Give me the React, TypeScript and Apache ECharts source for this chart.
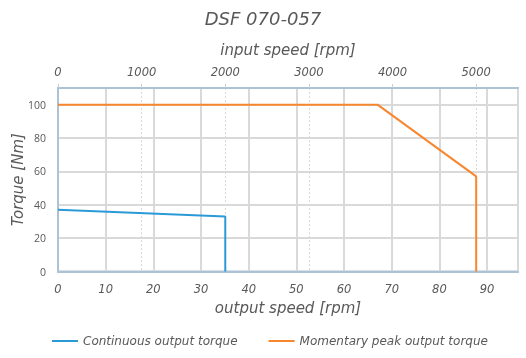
import React, { useEffect, useRef } from "react";
import * as echarts from "echarts";

const RATIO = 57;
const inputMax = 5500;
const inputTicks = [0, 1000, 2000, 3000, 4000, 5000];
const torqueTicks = [0, 20, 40, 60, 80, 100];

const continuousSpeed = [0, 2000 / RATIO, 2000 / RATIO];
const continuousTorque = [37, 33, 0];
const peakSpeed = [0, 3820 / RATIO, 5000 / RATIO, 5000 / RATIO];
const peakTorque = [100, 100, 57, 0];

const seriesNames = ["Continuous output torque", "Momentary peak output torque"];

const FONT = "'DejaVu Sans', sans-serif";
const NUMFONT = "'Open Sans', sans-serif";
const GRAY = "#595959";
const BORDER = "#adc2d5";
const GRID = "#d9d9d9";

export default function App() {
  const ref = useRef<HTMLDivElement>(null);
  useEffect(() => {
    if (!ref.current) return;
    const chart = echarts.init(ref.current, null, { renderer: "svg" });
    chart.setOption({
      animation: false,
      title: {
        text: "DSF 070-057",
        left: "center",
        top: 4,
        textStyle: { fontFamily: FONT, fontStyle: "italic", fontWeight: "normal", fontSize: 18, color: GRAY },
      },
      legend: {
        bottom: 6,
        left: 46,
        itemWidth: 26,
        itemHeight: 2,
        itemGap: 30,
        textStyle: { fontFamily: FONT, fontStyle: "italic", fontSize: 12, color: GRAY },
        data: seriesNames,
      },
      grid: {
        left: 58,
        right: 8,
        top: 88,
        bottom: 86.5,
        show: true,
        borderColor: BORDER,
        borderWidth: 2,
        containLabel: false,
        outerBoundsMode: "none",
      },
      xAxis: [
        {
          type: "value",
          position: "bottom",
          min: 0,
          max: inputMax / RATIO,
          interval: 10,
          name: "output speed [rpm]",
          nameLocation: "middle",
          nameGap: 29,
          nameTextStyle: { fontFamily: FONT, fontStyle: "italic", fontSize: 15, color: GRAY },
          axisLine: { show: true, lineStyle: { color: BORDER, width: 2 } },
          axisTick: { show: false },
          axisLabel: { showMaxLabel: false, margin: 11, fontFamily: FONT, fontStyle: "italic", fontSize: 11.5, color: GRAY },
          splitLine: { show: true, lineStyle: { color: GRID, width: 2, type: "solid" } },
        },
        {
          type: "value",
          position: "top",
          min: 0,
          max: inputMax,
          interval: 1000,
          name: "input speed [rpm]",
          nameLocation: "middle",
          nameGap: 31,
          nameTextStyle: { fontFamily: FONT, fontStyle: "italic", fontSize: 15, color: GRAY },
          axisLine: { show: true, lineStyle: { color: BORDER, width: 2 } },
          axisTick: { show: true, length: 4, lineStyle: { color: "#cccccc" } },
          axisLabel: {
            showMaxLabel: false,
            margin: 10,
            fontFamily: FONT,
            fontStyle: "italic",
            fontSize: 11.5,
            color: GRAY,
            formatter: (v: number) => (inputTicks.includes(v) ? String(v) : ""),
          },
          splitLine: { show: true, lineStyle: { color: "#d8d8d8", width: 1, type: [2, 2] } },
        },
      ],
      yAxis: {
        type: "value",
        min: 0,
        max: 110,
        interval: 20,
        name: "Torque [Nm]",
        nameLocation: "middle",
        nameGap: 33,
        nameMoveOverlap: false,
        nameTextStyle: { fontFamily: FONT, fontStyle: "italic", fontSize: 15, color: GRAY },
        axisLine: { show: true, lineStyle: { color: BORDER, width: 2 } },
        axisTick: { show: false },
        axisLabel: {
          showMaxLabel: false,
          margin: 12,
          fontFamily: NUMFONT,
          fontSize: 10.5,
          color: GRAY,
          formatter: (v: number) => (torqueTicks.includes(v) ? String(v) : ""),
        },
        splitLine: { show: true, lineStyle: { color: GRID, width: 2, type: "solid" } },
      },
      series: [
        {
          name: seriesNames[0],
          type: "line",
          xAxisIndex: 0,
          symbol: "none",
          color: "#2a9ad7",
          lineStyle: { width: 2, color: "#2a9ad7" },
          data: continuousSpeed.map((x, i) => [x, continuousTorque[i]]),
        },
        {
          name: seriesNames[1],
          type: "line",
          xAxisIndex: 0,
          symbol: "none",
          color: "#f7862e",
          lineStyle: { width: 2, color: "#f7862e" },
          data: peakSpeed.map((x, i) => [x, peakTorque[i]]),
        },
      ],
    });
    return () => chart.dispose();
  }, []);
  return <div ref={ref} style={{ position: "fixed", left: 0, top: 0, width: 526, height: 358 }} />;
}
